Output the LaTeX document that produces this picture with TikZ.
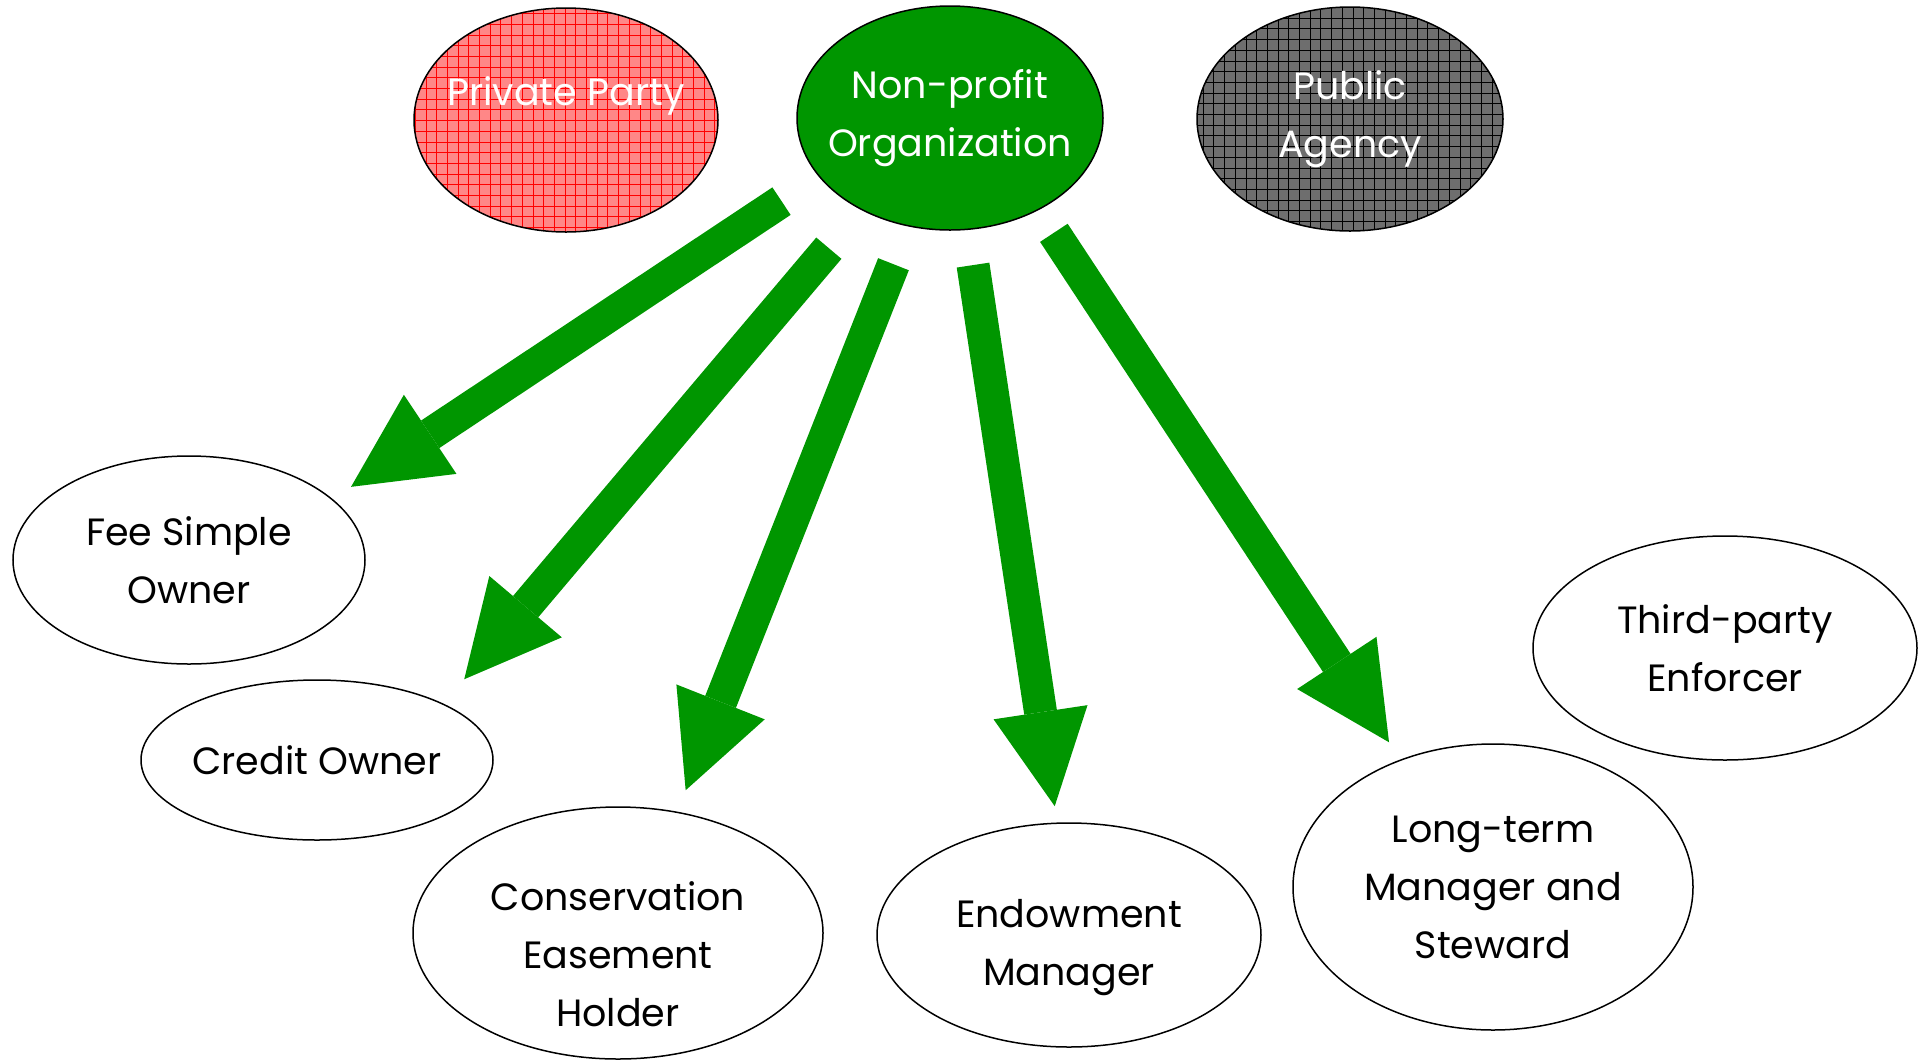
\documentclass[tikz,border=0pt]{standalone}
\usepackage{fontspec}
\setmainfont{Poppins}
\usetikzlibrary{shapes.geometric,arrows.meta}
\definecolor{npogreen}{RGB}{0,150,0}
\definecolor{privpink}{RGB}{255,135,135}
\definecolor{pubgray}{RGB}{110,110,110}

\begin{document}
\begin{tikzpicture}[x=1pt,y=-1pt]
 \tikzstyle{arrow} = [-{Triangle[width=95pt,length=95pt,line width=0pt]},line width=33pt,draw=npogreen,fill=npogreen];
 \tikzstyle{place} = [ellipse,draw=black,line width=1.5pt,inner ysep=0pt,inner xsep=-40pt,align=center,font=\fontsize{38}{58}\selectfont];
 \tikzstyle{placeR} = [fill=privpink,text=white,path picture={\draw[red,line width=1pt,step=10.7pt] (path picture bounding box.south west) grid (path picture bounding box.north east);}];
 \tikzstyle{placeG} = [fill=npogreen,text=white];
 \tikzstyle{placeK} = [fill=pubgray,text=white,path picture={\draw[black,line width=1pt,step=10.7pt] (path picture bounding box.south west) grid (path picture bounding box.north east);}];
 \tikzstyle{placeW} = [fill=white,text=black];

 \useasboundingbox (0,0) rectangle (1927,1061);

 % top row
 \node[place,placeR,name=priv,minimum width=304pt,minimum height=224pt] at (566,120) {Private Party\\\mbox{}};
 \node[place,placeG,name=npo,minimum width=306pt,minimum height=224pt] at (950,118) {Non-profit\\Organization};
 \node[place,placeK,name=pub,minimum width=306pt,minimum height=224pt] at (1350,119) {Public\\Agency};

 % roles
 \node[place,placeW,name=fee,minimum width=352pt,minimum height=208pt] at (189,560) {Fee Simple\\Owner};
 \node[place,placeW,name=credit,minimum width=352pt,minimum height=160pt] at (317,760) {Credit Owner};
 \node[place,placeW,name=ceh,minimum width=410pt,minimum height=252pt,inner ysep=-12pt,text height=186pt,text depth=0pt] at (618,933) {Conservation\\Easement\\Holder};
 \node[place,placeW,name=endow,minimum width=384pt,minimum height=224pt,text height=110pt,text depth=10pt] at (1069,935) {Endowment\\Manager};
 \node[place,placeW,name=ltm,minimum width=400pt,minimum height=286pt] at (1493,887) {Long-term\\Manager and\\Steward};
 \node[place,placeW,name=third,minimum width=384pt,minimum height=224pt] at (1725,648) {Third-party\\Enforcer};

 \draw[arrow,shorten <=44.5pt,shorten >=22pt] (npo.204) -- (fee.23);
 \draw[arrow,shorten <=50pt,shorten >=32pt] (npo.226) -- (credit.24);
 \draw[arrow,shorten <=40.5pt,shorten >=23pt] (npo.249) -- (ceh.64);
 \draw[arrow,shorten <=35.5pt,shorten >=16.5pt] (npo.279) -- (endow.96);
 \draw[arrow,shorten <=27.3pt,shorten >=20.6pt] (npo.314) -- (ltm.126);

\end{tikzpicture}
\end{document}
